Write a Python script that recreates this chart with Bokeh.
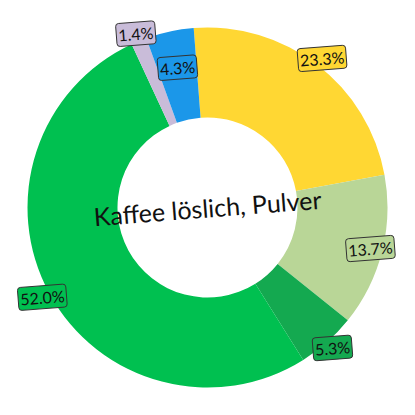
import numpy as np
from bokeh.plotting import figure
from bokeh.models import ColumnDataSource
from bokeh.core.properties import value
from bokeh.embed import file_html
from bokeh.resources import INLINE

title = "Kaffee löslich, Pulver"
shares = [23.3, 13.7, 5.3, 52.0, 1.4, 4.3]
colors = ["#FFD733", "#B9D697", "#14A950", "#00C050", "#C9BCD9", "#1B97E9"]
labels = [f"{v:.1f}%" for v in shares]

W = H = 399
CX = CY = 207  # pixel position of the ring centre from the top-left
R_OUT, R_IN = 180, 90
ROT = np.deg2rad(4.4)

p = figure(width=W, height=H, x_range=(-CX, W - CX), y_range=(-(H - CY), CY),
           output_backend="svg", toolbar_location=None, min_border=0)
p.axis.visible = False
p.grid.visible = False
p.outline_line_color = None
p.background_fill_color = "white"

frac = np.array(shares) / sum(shares)
cum = np.concatenate([[0], np.cumsum(frac)])
start = np.pi / 2 + ROT - 2 * np.pi * cum[:-1]
end = np.pi / 2 + ROT - 2 * np.pi * cum[1:]
mid = (start + end) / 2

# label radius: outside the ring, except where it would collide / leave the page
lab_r = np.array([188.0] * len(shares))
lab_r[1] = 168.0
lab_r[5] = 143.0

src = ColumnDataSource(dict(start=start, end=end, color=colors,
                            lx=lab_r * np.cos(mid), ly=lab_r * np.sin(mid),
                            text=labels))

p.annular_wedge(x=0, y=0, inner_radius=R_IN, outer_radius=R_OUT,
                start_angle="start", end_angle="end", direction="clock",
                fill_color="color", line_color=None, source=src)

p.text(x="lx", y="ly", text="text", source=src, angle=ROT,
       text_align="center", text_baseline="middle",
       text_font=value("Lato"), text_font_size="16px", text_color="#111111",
       background_fill_color="color", border_line_color="#333333",
       border_line_width=1, border_radius=3, padding=2)

p.text(x=[0], y=[0], text=[title], angle=ROT, text_align="center",
       text_baseline="middle", text_font=value("Lato"),
       text_font_size="25px", text_color="#111111")

open("out.html", "w").write(file_html(p, INLINE))
